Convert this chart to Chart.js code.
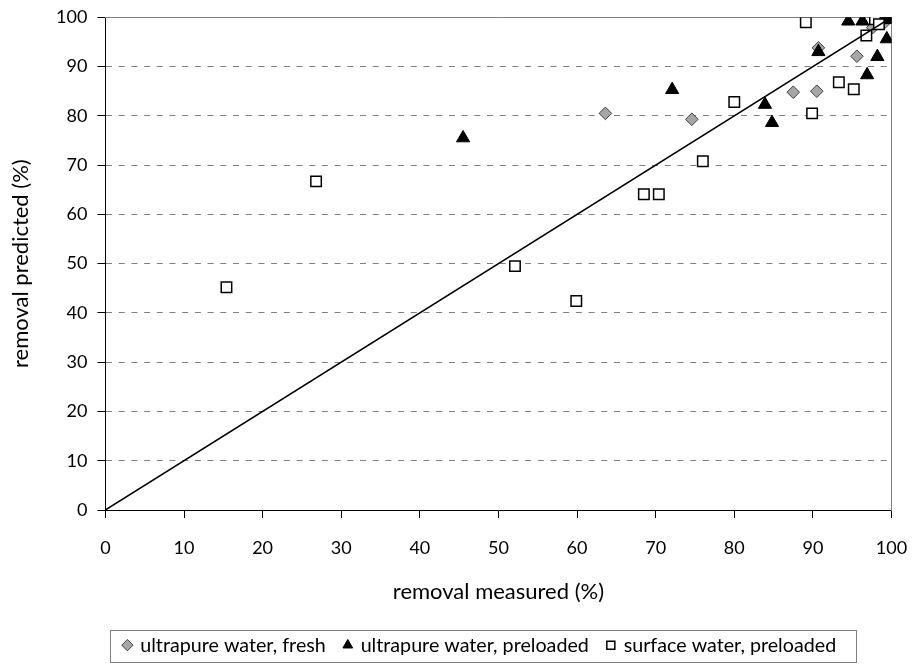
<!DOCTYPE html>
<html>
<head>
<meta charset="utf-8">
<script src="https://cdn.jsdelivr.net/npm/chart.js@4.4.1/dist/chart.umd.min.js"></script>
<style>
    body { margin: 0; background: #fff; }
    #wrap { width: 912px; height: 665px; }
</style>
</head>
<body>
<div id="wrap"><canvas id="removal_chart" width="912" height="665"></canvas></div>
<script>
var axisTicks = [0, 10, 20, 30, 40, 50, 60, 70, 80, 90, 100];

var seriesNames = ['ultrapure water, fresh', 'ultrapure water, preloaded', 'surface water, preloaded'];

// ultrapure water, fresh (grey diamonds)
var freshX = [63.6, 74.6, 87.5, 90.5, 90.7, 95.6, 97.6, 98.3, 99.1];
var freshY = [80.5, 79.3, 84.8, 85.0, 93.8, 92.1, 97.9, 99.6, 98.9];

// ultrapure water, preloaded (black triangles)
var preX = [45.5, 72.1, 83.9, 84.8, 90.7, 94.5, 96.3, 96.9, 98.2, 99.4, 98.9, 99.4, 99.8];
var preY = [75.5, 85.3, 82.3, 78.6, 93.0, 99.2, 99.2, 88.3, 92.0, 95.6, 99.5, 99.7, 99.5];

// surface water, preloaded (white squares)
var surfX = [15.4, 26.8, 52.1, 59.9, 68.5, 70.4, 76.0, 80.0, 89.9, 89.1, 93.3, 95.2, 96.8, 97.9, 98.4];
var surfY = [45.2, 66.7, 49.5, 42.4, 64.1, 64.1, 70.8, 82.8, 80.5, 99.0, 86.8, 85.4, 96.3, 99.6, 98.6];

// 1:1 line
var diagX = [0, 100];
var diagY = [0, 100];

function pairs(xs, ys) {
    var out = [];
    for (var i = 0; i < xs.length; i++) {
        out.push({x: xs[i], y: ys[i]});
    }
    return out;
}

function setTicks(scale) {
    scale.ticks = axisTicks.map(function(v) { return {value: v}; });
}

var legendFrame = {
    id: 'legendFrame',
    afterDraw: function(chart) {
        var hb = chart.legend && chart.legend.legendHitBoxes;
        if (!hb || !hb.length) return;
        var ctx = chart.ctx;
        var first = hb[0], last = hb[hb.length - 1];
        var cy = first.top + first.height / 2;
        var x1 = Math.round(first.left - 14) + 0.5;
        var x2 = Math.round(last.left + last.width + 20) + 0.5;
        ctx.save();
        ctx.strokeStyle = '#808080';
        ctx.lineWidth = 1;
        ctx.strokeRect(x1, Math.round(cy - 15) + 0.5, x2 - x1, 32);
        ctx.restore();
    }
};

Chart.defaults.font.family = 'Lato';
Chart.defaults.color = '#000';

new Chart(document.getElementById('removal_chart'), {
    type: 'scatter',
    data: {
        datasets: [
            {
                label: seriesNames[0],
                data: pairs(freshX, freshY),
                pointStyle: 'rectRot',
                pointRadius: 6.3,
                backgroundColor: '#a6a6a6',
                borderColor: '#404040',
                borderWidth: 1,
                order: 3
            },
            {
                label: seriesNames[1],
                data: pairs(preX, preY),
                pointStyle: 'triangle',
                pointRadius: 7.6,
                backgroundColor: '#000',
                borderColor: '#000',
                borderWidth: 1,
                order: 2
            },
            {
                label: seriesNames[2],
                data: pairs(surfX, surfY),
                pointStyle: 'rect',
                pointRadius: 7.4,
                backgroundColor: '#fff',
                borderColor: '#000',
                borderWidth: 1.5,
                order: 1
            },
            {
                type: 'line',
                label: '1:1',
                data: pairs(diagX, diagY),
                borderColor: '#000',
                borderWidth: 1.5,
                pointRadius: 0,
                fill: false,
                order: 0
            }
        ]
    },
    options: {
        responsive: false,
        animation: false,
        layout: {padding: {left: 4, right: 20.5, top: 17.3, bottom: 0}},
        plugins: {
            tooltip: {enabled: false},
            legend: {
                position: 'bottom',
                align: 'start',
                fullSize: false,
                labels: {
                    usePointStyle: true,
                    boxWidth: 6,
                    boxHeight: 8,
                    padding: 19,
                    font: {size: 19.7},
                    color: '#000',
                    filter: function(item) { return item.datasetIndex < 3; },
                    sort: function(a, b) { return a.datasetIndex - b.datasetIndex; }
                }
            }
        },
        scales: {
            x: {
                type: 'linear',
                position: 'bottom',
                min: 0,
                max: 100,
                afterBuildTicks: setTicks,
                afterFit: function(scale) {
                    scale.height = 106.3;
                    scale.paddingLeft = 0;
                    scale.paddingRight = 0;
                },
                ticks: {padding: 19, font: {size: 18}, color: '#000'},
                grid: {drawOnChartArea: false, drawTicks: true, tickLength: 8, tickColor: '#000', tickWidth: 1},
                border: {color: '#000', width: 1},
                title: {display: true, text: 'removal measured (%)', font: {size: 22}, color: '#000', padding: {top: 4, bottom: 11}}
            },
            y: {
                type: 'linear',
                position: 'left',
                min: 0,
                max: 100,
                afterBuildTicks: setTicks,
                afterFit: function(scale) {
                    scale.width = 101.4;
                    scale.paddingTop = 0;
                    scale.paddingBottom = 0;
                },
                ticks: {padding: 10, font: {size: 18}, color: '#000'},
                grid: {
                    color: function(c) {
                        if (!c.tick) return 'rgba(0,0,0,0)';
                        return (c.tick.value === 0 || c.tick.value === 100) ? 'rgba(0,0,0,0)' : '#808080';
                    },
                    lineWidth: 1,
                    tickLength: 8,
                    tickColor: '#000',
                    tickWidth: 1
                },
                border: {color: '#000', width: 1, dash: [6, 6.7]},
                title: {display: true, text: 'removal predicted (%)', font: {size: 22}, color: '#000', padding: {top: 4, bottom: 0}}
            },
            xTop: {
                type: 'linear',
                position: 'top',
                min: 0,
                max: 100,
                afterFit: function(scale) { scale.height = 0; scale.paddingLeft = 0; scale.paddingRight = 0; },
                ticks: {display: false},
                grid: {drawOnChartArea: false, drawTicks: false},
                border: {color: '#808080', width: 1}
            },
            yRight: {
                type: 'linear',
                position: 'right',
                min: 0,
                max: 100,
                afterFit: function(scale) { scale.width = 0; scale.paddingTop = 0; scale.paddingBottom = 0; },
                ticks: {display: false},
                grid: {drawOnChartArea: false, drawTicks: false},
                border: {color: '#808080', width: 1}
            }
        }
    },
    plugins: [legendFrame]
});
</script>
</body>
</html>
